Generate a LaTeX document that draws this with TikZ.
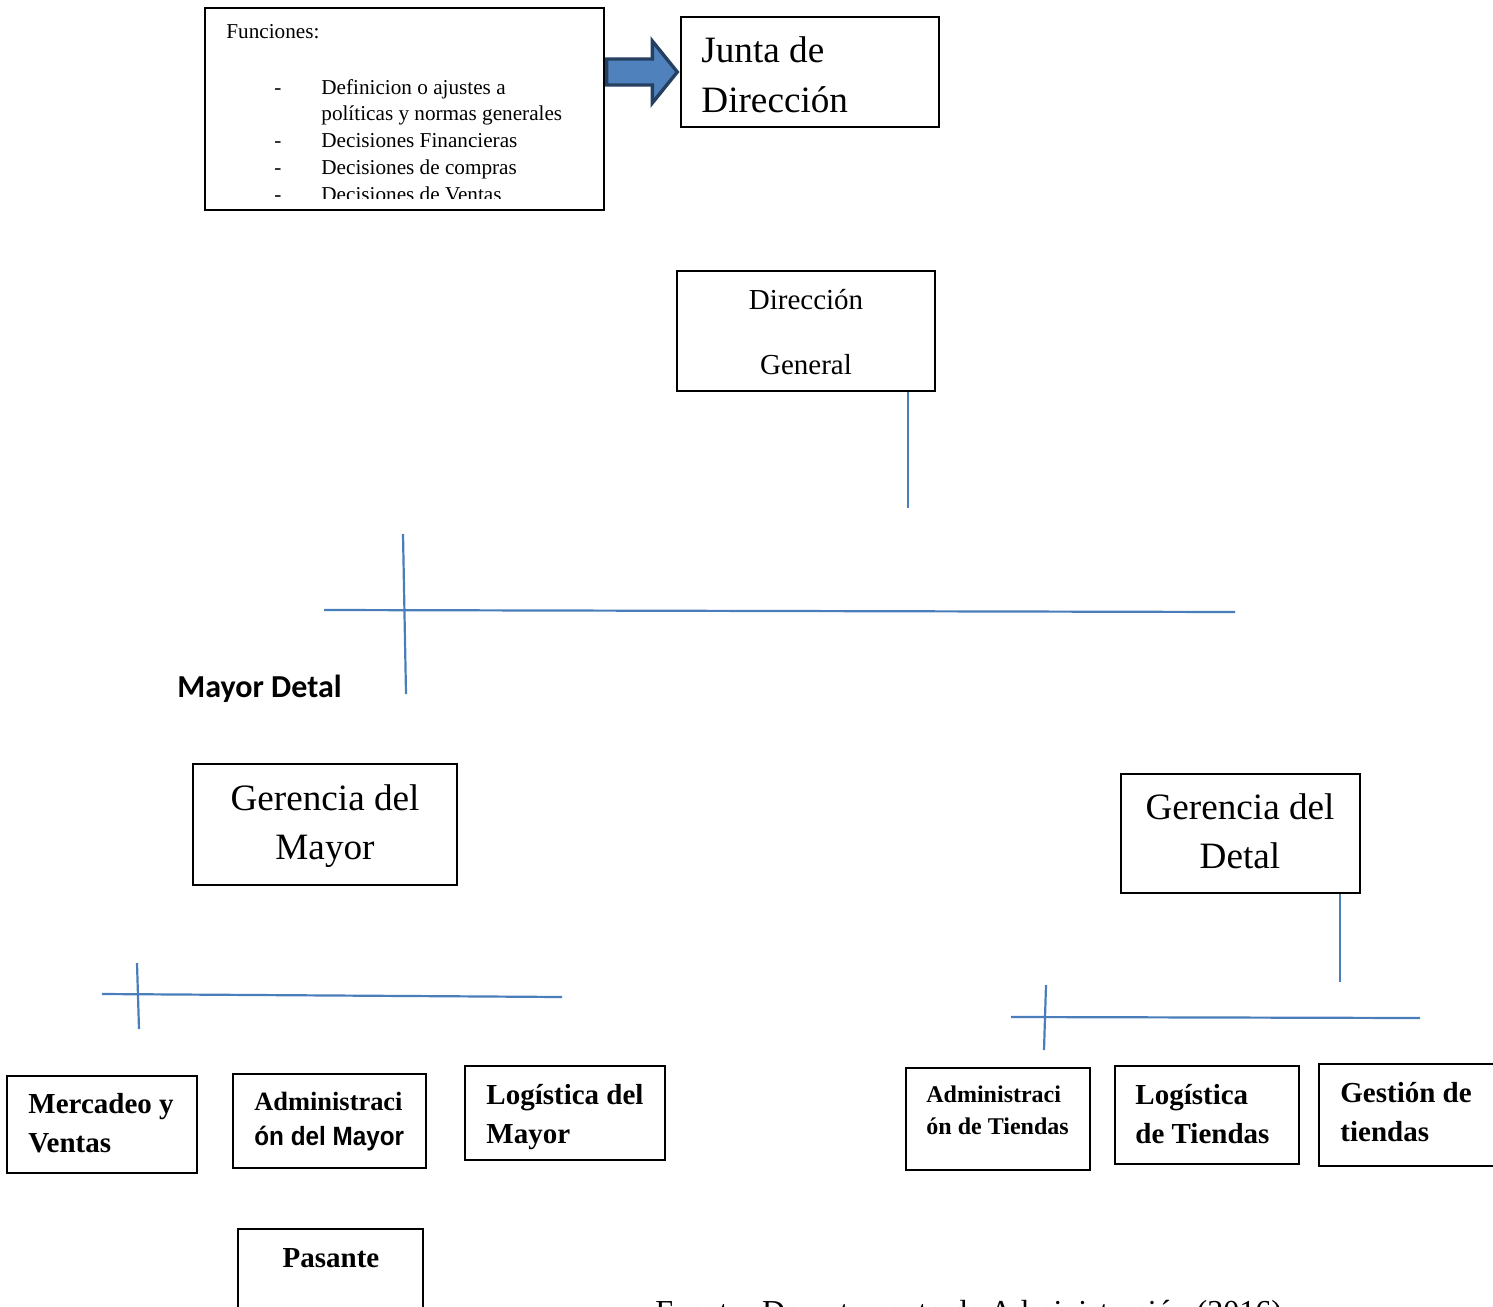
\documentclass[tikz,border=0pt]{standalone}
\usepackage{fontspec}
\setmainfont{Liberation Serif}
\newfontfamily\carlito{Carlito}
\newfontfamily\narrowsans[FakeStretch=0.92]{Liberation Sans}
\usetikzlibrary{fit,calc}
\definecolor{lineblue}{RGB}{74,126,187}
\definecolor{arrowfill}{RGB}{79,129,189}
\definecolor{arrowedge}{RGB}{38,64,98}

\begin{document}
\begin{tikzpicture}[x=0.5pt,y=-0.5pt,
  box/.style={draw,line width=0.7pt,inner sep=0pt},
  txt/.style={inner sep=0pt,align=left},
  bar/.style={draw=lineblue,line width=1.1pt},
  bigfont/.style={font=\fontsize{18.6}{24.5}\selectfont},
  boldfont/.style={font=\fontsize{14.5}{19.6}\selectfont\bfseries}]
\useasboundingbox (0,0) rectangle (1493,1306);
\clip (0,0) rectangle (1493,1306);

% junta y funciones
\node[box,fit={(205,8) (604,210)}] (funciones) {};
\node[box,fit={(681,17) (939,127)}] (junta) {};
\node[txt,anchor=north west,font=\fontsize{18.6}{25}\selectfont] (juntatxt) at (701,36) {Junta de\\Dirección};
\begin{scope}[font=\fontsize{10.6}{13}\selectfont]
\clip (206,9) rectangle (603,198);
\node[txt,anchor=base west] (funtitle) at (226,38) {Funciones:};
\foreach \y/\d/\t [count=\i] in {94/-/Definicion o ajustes a, 120//políticas y normas generales, 147/-/Decisiones Financieras, 174/-/Decisiones de compras, 201/-/Decisiones de Ventas}{
  \node[txt,anchor=base west] (dash\i) at (274,\y) {\d};
  \node[txt,anchor=base west] (item\i) at (321,\y) {\t};
}
\end{scope}
\draw[line width=1.7pt,draw=arrowedge,fill=arrowfill]
  ($(funciones.east |- junta.west)+(2,-13)$) -- ($(junta.west)+(-28,-13)$) -- ($(junta.west)+(-28,-31)$)
  -- ($(junta.west)+(-3,0)$) -- ($(junta.west)+(-28,31)$) -- ($(junta.west)+(-28,13)$)
  -- ($(funciones.east |- junta.west)+(2,13)$) -- cycle;

% direccion general
\node[box,fit={(677,271) (935,391)}] (general) {};
\node[txt,anchor=north,align=center,font=\fontsize{14.5}{32.5}\selectfont] (generaltxt) at (806,289) {Dirección\\General};
\coordinate (dgdrop) at (908,508);
\draw[bar] (general.south -| dgdrop) -- (dgdrop);
\coordinate (barL) at (324,610);
\coordinate (barR) at (1235,612);
\coordinate (tickT) at (403,534);
\coordinate (tickB) at (406,694);
\draw[bar] (barL) -- (barR);
\draw[bar] (tickT) -- (tickB);
\node[txt,anchor=base west,font=\fontsize{16}{20}\selectfont\carlito\bfseries] (mayordetal) at (177,697) {Mayor Detal};

% gerencias
\node[box,fit={(193,764) (457,885)}] (gmayor) {};
\node[txt,anchor=north,align=center,bigfont] (gmayortxt) at (325,784) {Gerencia del\\Mayor};
\node[box,fit={(1121,774) (1360,893)}] (gdetal) {};
\node[txt,anchor=north,align=center,bigfont] (gdetaltxt) at (1240,793) {Gerencia del\\Detal};

% ramas del mayor
\coordinate (mbarL) at (102,994);
\coordinate (mbarR) at (562,997);
\coordinate (mtickT) at (137,963);
\coordinate (mtickB) at (139,1029);
\draw[bar] (mbarL) -- (mbarR);
\draw[bar] (mtickT) -- (mtickB);
\node[box,fit={(7,1076) (197,1173)}] (mercadeo) {};
\node[txt,anchor=north west,boldfont] (mercadeotxt) at (28,1093) {Mercadeo y\\Ventas};
\node[box,fit={(233,1074) (426,1168)}] (admmayor) {};
\node[txt,anchor=north west,font=\fontsize{13.2}{17.5}\selectfont\bfseries] (admmayortxt) at (254,1092) {Administraci\\{\narrowsans ón del Mayor}};
\node[box,fit={(465,1066) (665,1160)}] (logmayor) {};
\node[txt,anchor=north west,boldfont] (logmayortxt) at (486,1084) {Logística del\\Mayor};
\node[box,fit={(238,1229) (423,1312)}] (pasante) {};
\node[txt,anchor=base,boldfont] (pasantetxt) at (331,1267) {Pasante};

% ramas del detal
\coordinate (ddrop) at (1340,982);
\draw[bar] (gdetal.south -| ddrop) -- (ddrop);
\coordinate (dbarL) at (1011,1017);
\coordinate (dbarR) at (1420,1018);
\coordinate (dtickT) at (1046,985);
\coordinate (dtickB) at (1044,1050);
\draw[bar] (dbarL) -- (dbarR);
\draw[bar] (dtickT) -- (dtickB);
\node[box,fit={(906,1068) (1090,1170)}] (admtiendas) {};
\node[txt,anchor=north west,font=\fontsize{12}{16}\selectfont\bfseries] (admtiendastxt) at (926,1085) {Administraci\\ón de Tiendas};
\node[box,fit={(1115,1066) (1299,1164)}] (logtiendas) {};
\node[txt,anchor=north west,boldfont] (logtiendastxt) at (1135,1084) {Logística\\de Tiendas};
\node[box,fit={(1319,1064) (1500,1166)}] (gestion) {};
\node[txt,anchor=north west,boldfont] (gestiontxt) at (1340,1082) {Gestión de\\tiendas};

\node[txt,anchor=base west,font=\fontsize{16}{19}\selectfont] (fuente) at (655,1322) {Fuente: Departamento de Administración (2016)};
\end{tikzpicture}
\end{document}
